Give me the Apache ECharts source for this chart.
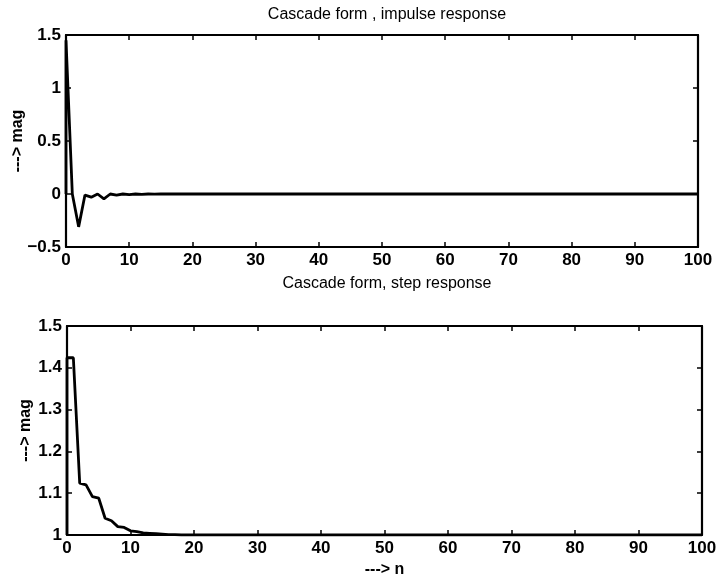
<!DOCTYPE html>
<html>
<head>
<meta charset="utf-8">
<script src="https://cdn.jsdelivr.net/npm/echarts@6/dist/echarts.min.js"></script>
<style>
html,body{margin:0;padding:0;background:#fff;}
#chart{width:717px;height:582px;}
</style>
</head>
<body>
<div id="chart"></div>
<script>
// ---- data ----
const titleTop = 'Cascade form , impulse response';
const titleBottom = 'Cascade form, step response';
const yName = '---> mag';
const xName = '---> n';

// sample index n = 0..100 (first point repeated for the initial vertical stroke)
const impulseN = [0,0,1,2,3,4,5,6,7,8,9,10,11,12,13,14,15,16,17,18,19,20,
  21,22,23,24,25,26,27,28,29,30,31,32,33,34,35,36,37,38,39,40,
  41,42,43,44,45,46,47,48,49,50,51,52,53,54,55,56,57,58,59,60,
  61,62,63,64,65,66,67,68,69,70,71,72,73,74,75,76,77,78,79,80,
  81,82,83,84,85,86,87,88,89,90,91,92,93,94,95,96,97,98,99,100];
const impulseVal = [0,1.45,0.00,-0.31,-0.01,-0.03,0.00,-0.045,0.00,-0.01,0.00,-0.005,0,-0.003,0,-0.002,0,0,0,0,0,0,
  0,0,0,0,0,0,0,0,0,0,0,0,0,0,0,0,0,0,0,0,
  0,0,0,0,0,0,0,0,0,0,0,0,0,0,0,0,0,0,0,0,
  0,0,0,0,0,0,0,0,0,0,0,0,0,0,0,0,0,0,0,0,
  0,0,0,0,0,0,0,0,0,0,0,0,0,0,0,0,0,0,0,0];

const stepN = impulseN;
const stepVal = [1.0,1.424,1.424,1.124,1.12,1.092,1.088,1.04,1.034,1.02,1.018,1.01,1.008,1.005,1.004,1.003,1.002,1.001,1.001,1,1,1,
  1,1,1,1,1,1,1,1,1,1,1,1,1,1,1,1,1,1,1,1,
  1,1,1,1,1,1,1,1,1,1,1,1,1,1,1,1,1,1,1,1,
  1,1,1,1,1,1,1,1,1,1,1,1,1,1,1,1,1,1,1,1,
  1,1,1,1,1,1,1,1,1,1,1,1,1,1,1,1,1,1,1,1];

const topYTicks = {min: -0.5, max: 1.5, interval: 0.5};
const botYTicks = {min: 1, max: 1.5, interval: 0.1};
const xTicks = {min: 0, max: 100, interval: 10};

// ---- chart ----
const FONT = '"Liberation Sans", Arial, sans-serif';
const lineStyleAxis = {color: '#000', width: 2.2};
const labelStyle = {color: '#000', fontFamily: FONT, fontSize: 17, fontWeight: 'bold'};
const nameStyle = {color: '#000', fontFamily: FONT, fontSize: 16, fontWeight: 'bold'};

function pairs(ns, vs){ return ns.map((n,i)=>[n, vs[i]]); }
function fmt(v){
  const r = Math.round(v*10)/10;
  return Number.isInteger(r) ? String(r) : r.toFixed(1);
}
function fmtMinus(v){ return fmt(v).replace('-', '\u2212'); }

function xAx(grid, main){
  return {
    type: 'value', gridIndex: grid, min: xTicks.min, max: xTicks.max, interval: xTicks.interval,
    position: main ? 'bottom' : 'top',
    axisLine: {show: true, onZero: false, lineStyle: lineStyleAxis},
    axisTick: {show: true, inside: true, length: 5, lineStyle: {color: '#000', width: 1.5}},
    axisLabel: main ? Object.assign({margin: 5}, labelStyle) : {show: false},
    splitLine: {show: false}
  };
}
function yAx(grid, main, t, f, gap){
  return {
    type: 'value', gridIndex: grid, min: t.min, max: t.max, interval: t.interval,
    position: main ? 'left' : 'right',
    axisLine: {show: true, onZero: false, lineStyle: lineStyleAxis},
    axisTick: {show: true, inside: true, length: 5, lineStyle: {color: '#000', width: 1.5}},
    axisLabel: main ? Object.assign({margin: 5, formatter: f}, labelStyle) : {show: false},
    splitLine: {show: false},
    name: main ? yName : '',
    nameLocation: 'middle', nameRotate: 90, nameGap: gap || 40,
    nameMoveOverlap: false,
    nameTextStyle: nameStyle
  };
}

const chart = echarts.init(document.getElementById('chart'), null, {renderer: 'canvas'});
const xa = [xAx(0,true), xAx(0,false), xAx(1,true), xAx(1,false)];
xa[2].name = xName;
xa[2].nameLocation = 'middle';
xa[2].nameGap = 27;
xa[2].nameTextStyle = nameStyle;

chart.setOption({
  backgroundColor: '#fff',
  animation: false,
  title: [
    {text: titleTop, left: 382, top: 2, textAlign: 'center',
     textStyle: {color: '#000', fontFamily: FONT, fontSize: 16, fontWeight: 'normal'}},
    {text: titleBottom, left: 382, top: 271, textAlign: 'center',
     textStyle: {color: '#000', fontFamily: FONT, fontSize: 16, fontWeight: 'normal'}}
  ],
  grid: [
    {left: 66, right: 19, top: 35, height: 212, containLabel: false, outerBoundsMode: 'none'},
    {left: 67, right: 15, top: 326, height: 209, containLabel: false, outerBoundsMode: 'none'}
  ],
  xAxis: xa,
  yAxis: [yAx(0,true,topYTicks,fmtMinus,40), yAx(0,false,topYTicks), yAx(1,true,botYTicks,fmt,33), yAx(1,false,botYTicks)],
  series: [
    {type: 'line', xAxisIndex: 0, yAxisIndex: 0, data: pairs(impulseN, impulseVal),
     showSymbol: false, lineStyle: {color: '#000', width: 2.8}, clip: true},
    {type: 'line', xAxisIndex: 2, yAxisIndex: 2, data: pairs(stepN, stepVal),
     showSymbol: false, lineStyle: {color: '#000', width: 2.8}, clip: true}
  ]
});
</script>
</body>
</html>
